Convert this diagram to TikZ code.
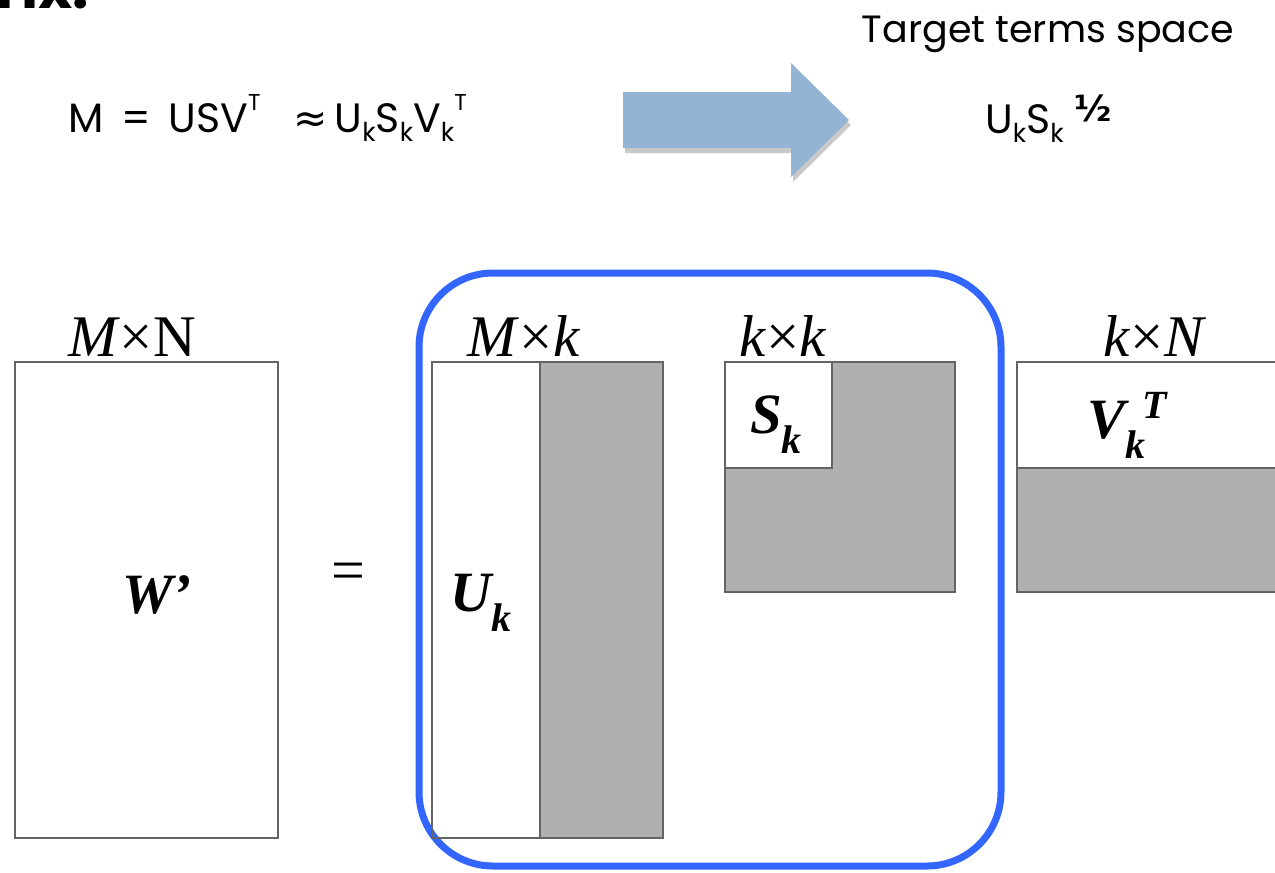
\documentclass[tikz,border=0pt]{standalone}
\usepackage{fontspec}
\setmainfont{Liberation Serif}
\newfontfamily\gothic{Poppins}
\newfontfamily\dejavu{DejaVu Sans}
\usetikzlibrary{shadows}
\definecolor{matgray}{RGB}{176,176,176}
\definecolor{matline}{RGB}{100,100,100}
\definecolor{boxblue}{RGB}{51,102,255}
\definecolor{arrowblue}{RGB}{148,180,212}
\newcommand\gsub[1]{\raisebox{-0.22em}{\fontsize{26}{26}\selectfont #1}}
\newcommand\gsup[1]{\raisebox{0.52em}{\fontsize{23}{23}\selectfont #1}}
\newcommand\bsub[1]{\raisebox{-0.35em}{\fontsize{40}{40}\selectfont #1}}
\newcommand\bsup[1]{\raisebox{0.35em}{\fontsize{40}{40}\selectfont #1}}
\begin{document}
\begin{tikzpicture}[x=1pt,y=-1pt,
  gtext/.style={font=\gothic\fontsize{41}{48}\selectfont, inner sep=0pt},
  dimlab/.style={font=\fontsize{59}{64}\selectfont, inner sep=0pt, anchor=base},
  mlab/.style={font=\bfseries\itshape\fontsize{57}{60}\selectfont, inner sep=0pt},
  matbox/.style={draw=matline, line width=1.8pt},
  blockarrow/.style={fill=arrowblue, drop shadow={shadow xshift=2pt, shadow yshift=-5pt, opacity=0.3, fill=black!70}}]
\useasboundingbox (0,0) rectangle (1275,873);
\begin{scope}
\clip (0,0) rectangle (1275,873);
% clipped title remnant
\node[anchor=base west, inner sep=0pt, font=\gothic\bfseries\fontsize{58}{60}\selectfont] (title) at (-4,8) {rix:};

% top formula
\node[gtext, anchor=base west] (eq) at (68,132) {M\,\ =\ \,USV\gsup{T}\ \ \ {\dejavu ≈}\,U\gsub{k}S\gsub{k}V\gsub{k}\gsup{T}};

% arrow
\path[blockarrow] (623,92) -- (791,92) -- (791,63) -- (849,120) -- (791,177) -- (791,148) -- (623,148) -- cycle;
\coordinate (arrowtip) at (849,120);

% target
\node[gtext, anchor=base, font=\gothic\fontsize{38}{46}\selectfont] (target) at (1048,42) {Target terms space};
\node[gtext, anchor=base west] (usk) at (985,133) {U\gsub{k}S\gsub{k}\ \raisebox{0.28em}{\dejavu\bfseries\fontsize{36}{36}\selectfont ½}};

% W' matrix
\draw[matbox, fill=white] (15,362) rectangle (278,838);
\node[dimlab] (lw) at (132,356) {\textit{M}×N};
\node[mlab] (wp) at (157,595) {W’};

% equals
\node[font=\fontsize{60}{60}\selectfont, inner sep=0pt] (eqs) at (348,577) {=};

% blue box
\draw[boxblue, line width=7pt, rounded corners=74pt] (419,273) rectangle (1001,866);

% U matrix
\fill[matgray] (540,362) rectangle (663,838);
\draw[matbox] (432,362) rectangle (663,838);
\draw[matbox] (540,362) -- (540,838);
\node[dimlab] (lu) at (524,356) {\textit{M}×\textit{k}};
\node[mlab] (uk) at (481,603) {U\bsub{k}};

% S matrix
\fill[matgray] (725,362) rectangle (955,592);
\fill[white] (725,362) rectangle (832,468);
\draw[matbox] (725,362) rectangle (955,592);
\draw[matbox] (725,468) -- (832,468) -- (832,362);
\node[dimlab] (ls) at (783,356) {\textit{k}×\textit{k}};
\node[mlab] (sk) at (776,425) {S\bsub{k}};

% V matrix
\fill[matgray] (1017,468) rectangle (1282,592);
\draw[matbox] (1017,362) rectangle (1282,592);
\draw[matbox] (1017,468) -- (1282,468);
\node[dimlab] (lv) at (1155,356) {\textit{k}×\textit{N}};
\node[mlab] (vk) at (1127,425) {V\bsub{k}\hspace{-0.05em}\bsup{T}};
\end{scope}
\end{tikzpicture}
\end{document}
